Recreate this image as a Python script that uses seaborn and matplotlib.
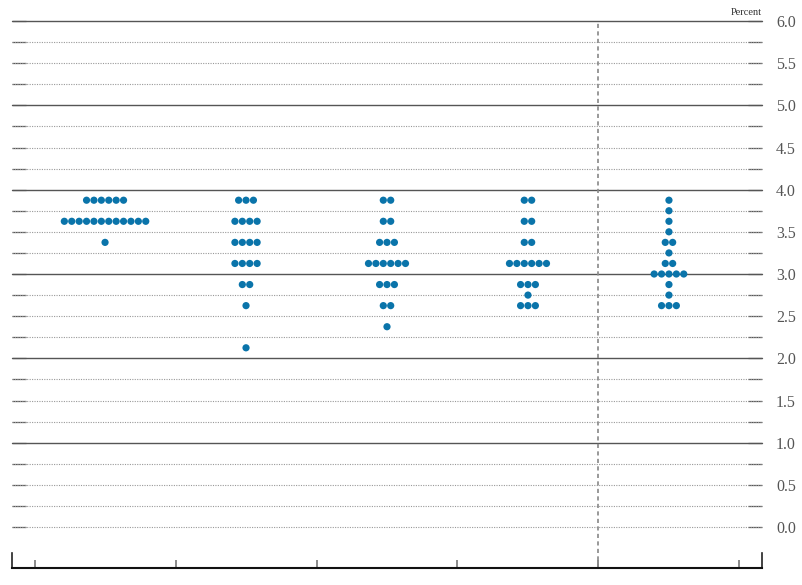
import numpy as np
import pandas as pd
import seaborn as sns
import matplotlib.pyplot as plt
from matplotlib.ticker import FixedLocator

# Dot plot: number of participants at each rate level, per column
column_ids = [0, 1, 2, 3, 4]
rate_levels = [3.875, 3.75, 3.625, 3.5, 3.375, 3.25, 3.125, 3.0, 2.875, 2.75, 2.625, 2.375, 2.125]
counts_col0 = [6, 0, 12, 0, 1, 0, 0, 0, 0, 0, 0, 0, 0]
counts_col1 = [3, 0, 4, 0, 4, 0, 4, 0, 2, 0, 1, 0, 1]
counts_col2 = [2, 0, 2, 0, 3, 0, 6, 0, 3, 0, 2, 1, 0]
counts_col3 = [2, 0, 2, 0, 2, 0, 6, 0, 3, 1, 3, 0, 0]
counts_col4 = [1, 1, 1, 1, 2, 1, 2, 5, 1, 1, 3, 0, 0]
all_counts = [counts_col0, counts_col1, counts_col2, counts_col3, counts_col4]

dot_step = 0.0525  # horizontal spacing between dots in a row

rows = []
for col, counts in zip(column_ids, all_counts):
    for level, n in zip(rate_levels, counts):
        for k in range(n):
            rows.append({"x": col + (k - (n - 1) / 2) * dot_step, "rate": level})
df = pd.DataFrame(rows)

sns.set_style("white")
plt.rcParams['font.family'] = ['Liberation Serif', 'DejaVu Serif']

fig = plt.figure(figsize=(8.03, 5.85), dpi=100)
ax = fig.add_axes([12 / 803, 17 / 585, 750 / 803, 547 / 585])

ymin, ymax = -0.486, 6.0
xmin, xmax = -0.66, 4.66

grid_vals = np.arange(0, 6.01, 0.25)

# gridlines every 0.25, solid at whole numbers
for v in grid_vals:
    if v > 0 and abs(v - round(v)) < 1e-9:
        ax.axhline(v, color="#555555", lw=1.0, zorder=1, clip_on=False)
    else:
        ax.axhline(v, color="#999999", lw=0.8, ls=(0, (1, 1.2)), zorder=1)

ax.axvline(3.5, color="#888888", lw=1.2, ls=(0, (2.5, 2)), zorder=1)

sns.scatterplot(data=df, x="x", y="rate", ax=ax, color="#0a74aa", s=27,
                edgecolor="none", zorder=3, legend=False)

ax.set_xlim(xmin, xmax)
ax.set_ylim(ymin, ymax)

ax.spines["top"].set_visible(False)
ax.spines["bottom"].set_linewidth(1.5)
ax.spines["bottom"].set_color("#111111")
for s in ["left", "right"]:
    ax.spines[s].set_bounds(ymin, ymin + 0.178)
    ax.spines[s].set_linewidth(1.2)
    ax.spines[s].set_color("#222222")

ax.yaxis.set_major_locator(FixedLocator(np.arange(0, 6.01, 0.5)))
ax.yaxis.set_minor_locator(FixedLocator(np.arange(0.25, 6.0, 0.5)))
ax.tick_params(axis="y", which="both", direction="in", length=10, width=0.9,
               color="#555555", left=True, right=True, labelleft=False,
               labelright=True, pad=10, labelsize=11.5, labelcolor="#555555")
ax.yaxis.set_major_formatter(plt.FuncFormatter(lambda v, p: f"{v:.1f}"))

ax.set_xticks(np.arange(-0.5, 4.6, 1.0))
ax.tick_params(axis="x", direction="in", length=6, width=1.2, color="#777777",
               labelbottom=False, bottom=True)

ax.set_xlabel("")
ax.set_ylabel("")
ax.text(1.0, 1.008, "Percent", transform=ax.transAxes, ha="right", va="bottom",
        fontsize=7.5, color="#333333")

fig.savefig("out.png", dpi=100)
